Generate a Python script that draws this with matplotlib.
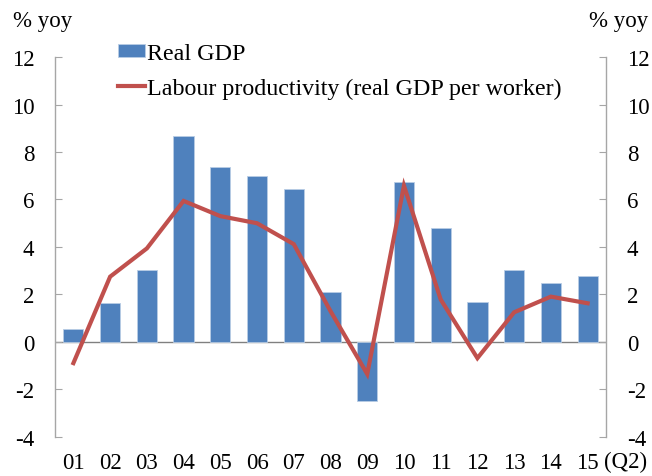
import matplotlib
matplotlib.use('Agg')
import matplotlib.pyplot as plt
import numpy as np

plt.rcParams['font.family'] = ['Liberation Serif', 'DejaVu Serif']

# data
years = ['01', '02', '03', '04', '05', '06', '07', '08', '09', '10', '11', '12', '13', '14', '15']
real_gdp = [0.53, 1.63, 3.02, 8.67, 7.35, 6.99, 6.43, 2.09, -2.48, 6.72, 4.79, 1.67, 3.03, 2.47, 2.77]
productivity = [-0.89, 2.75, 3.94, 5.94, 5.3, 5.0, 4.12, 1.3, -1.35, 6.58, 1.79, -0.68, 1.25, 1.91, 1.63]
yticks = [-4, -2, 0, 2, 4, 6, 8, 10, 12]

blue = '#4F81BD'
red = '#C0504D'
grey = '#A6A6A6'
fs = 16.5

fig = plt.figure(figsize=(6.52, 4.77), dpi=100)
ax = fig.add_axes([0.0844, 0.0818, 0.8450, 0.7966])
x = np.arange(len(years))

bars = ax.bar(x, real_gdp, width=0.55, color=blue, edgecolor='#B9CDE5', linewidth=0.6,
              label='Real GDP', zorder=2)
line, = ax.plot(x, productivity, color=red, linewidth=3, solid_joinstyle='miter',
                label='Labour productivity (real GDP per worker)', zorder=3)
ax.axhline(0, color='#808080', linewidth=1, zorder=1)

ax.set_xlim(-0.5, len(years) - 0.5)
ax.set_ylim(-4, 12)
ax.set_yticks(yticks)
ax.set_yticklabels([str(t) for t in yticks], fontsize=fs)
ax.tick_params(axis='y', direction='in', length=5, color=grey, pad=15,
               left=True, right=True, labelleft=True, labelright=True)
ax.set_xticks(x)
ax.set_xticklabels(years, fontsize=fs)
ax.tick_params(axis='x', length=0, pad=11)

for side in ['top', 'bottom']:
    ax.spines[side].set_visible(False)
for side in ['left', 'right']:
    ax.spines[side].set_color(grey)
    ax.spines[side].set_linewidth(1)

fig.text(0.02, 0.954, '% yoy', fontsize=fs, ha='left', va='center')
fig.text(0.994, 0.954, '% yoy', fontsize=fs, ha='right', va='center')
fig.text(604 / 652, 1 - 462 / 477, '(Q2)', fontsize=fs, ha='left', va='center')

ax.legend([bars, line], ['Real GDP', 'Labour productivity (real GDP per worker)'],
          loc='upper left', bbox_to_anchor=(0.115, 1.037), frameon=False, fontsize=17.3,
          handlelength=1.1, handleheight=0.5, handletextpad=0.1, labelspacing=0.58,
          borderaxespad=0, borderpad=0)

fig.savefig('out.png', dpi=100)
